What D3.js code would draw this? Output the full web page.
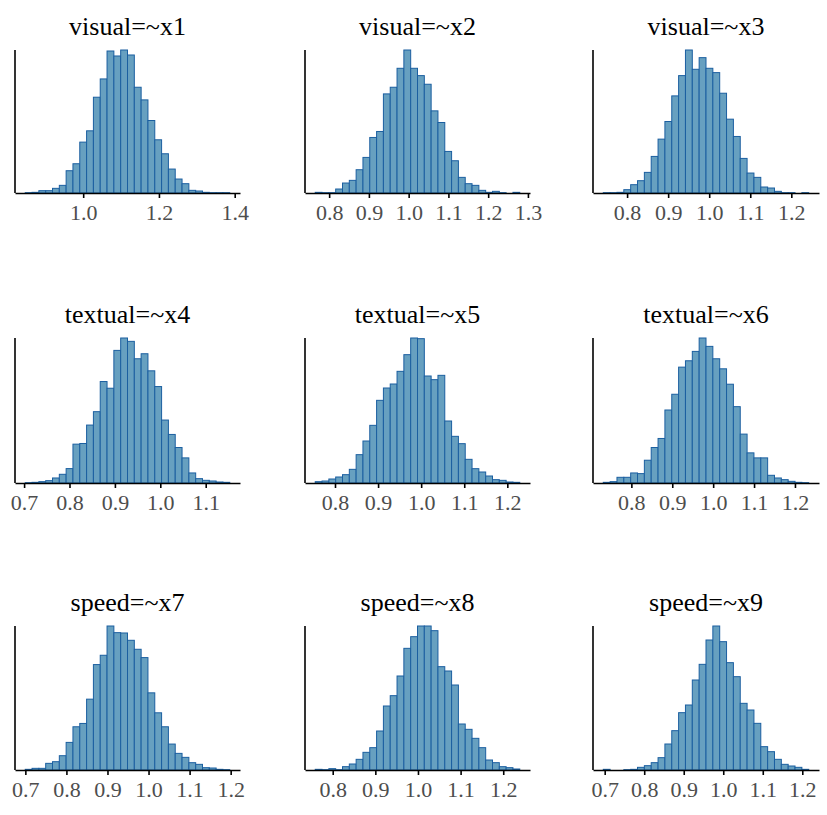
<!DOCTYPE html>
<meta charset="utf-8">
<script src="https://d3js.org/d3.v7.min.js"></script>
<style>
body { margin: 0; background: #fff; }
.title { font: 26px "Liberation Serif", "Times New Roman", serif; fill: #000; }
.x-axis text { font: 22px "Liberation Serif", "Times New Roman", serif; fill: #4d4d4d; }
.x-axis path, .x-axis line, .y-line { stroke: #000; stroke-width: 1.6px; }
.bar { fill: #67a0c0; stroke: #1b5fa0; stroke-width: 1px; }
</style>
<body>
<script>
var titles = ['visual=~x1', 'visual=~x2', 'visual=~x3',
              'textual=~x4', 'textual=~x5', 'textual=~x6',
              'speed=~x7', 'speed=~x8', 'speed=~x9'];

// left edge of the first bin and bin width (30 bins per panel)
var binStart = [0.847, 0.765, 0.742, 0.7025, 0.7541, 0.7313, 0.6997, 0.759, 0.6964];
var binWidth = [0.0180, 0.01715, 0.01668, 0.015017, 0.015827, 0.016746, 0.016604, 0.015993, 0.01733];

var counts1 = [1,2,7,7,14,23,67,88,153,187,288,343,427,412,430,415,318,280,218,160,118,72,42,28,8,6,2,1,1,1];
var counts2 = [2,1,1,12,30,38,70,107,167,185,298,318,375,430,375,353,327,247,212,125,97,47,28,23,8,2,5,1,0,2];
var counts3 = [1,1,2,10,25,37,62,110,162,215,292,353,430,372,407,375,362,300,222,170,104,60,47,18,15,5,1,1,0,1];
var counts4 = [1,2,4,7,15,26,43,116,118,173,213,303,283,396,433,423,371,386,335,288,188,145,106,75,30,13,8,6,3,2];
var counts5 = [4,6,12,18,25,41,85,126,173,248,285,297,335,385,435,433,321,310,323,186,140,118,71,43,33,21,10,8,3,2];
var counts6 = [2,4,17,17,30,28,68,106,133,218,265,346,365,393,433,408,371,341,295,228,146,90,75,75,23,15,10,5,2,1];
var counts7 = [2,5,5,20,25,43,83,130,140,213,317,345,433,413,412,390,363,338,232,172,130,78,50,38,22,17,7,6,2,1];
var counts8 = [2,1,4,1,10,18,32,53,67,117,192,223,282,365,400,432,432,418,310,297,255,138,122,95,67,30,22,10,7,3];
var counts9 = [2,0,0,1,2,8,13,22,37,78,118,172,195,270,317,390,432,385,322,280,200,180,140,70,55,32,17,12,8,2];
var allCounts = [counts1, counts2, counts3, counts4, counts5, counts6, counts7, counts8, counts9];

var tickValues = [
    [1.0, 1.2, 1.4],
    [0.8, 0.9, 1.0, 1.1, 1.2, 1.3],
    [0.8, 0.9, 1.0, 1.1, 1.2],
    [0.7, 0.8, 0.9, 1.0, 1.1],
    [0.8, 0.9, 1.0, 1.1, 1.2],
    [0.8, 0.9, 1.0, 1.1, 1.2],
    [0.7, 0.8, 0.9, 1.0, 1.1, 1.2],
    [0.8, 0.9, 1.0, 1.1, 1.2],
    [0.7, 0.8, 0.9, 1.0, 1.1, 1.2]
];

// panel layout
var colLeft = [15, 305, 593], colRight = [240, 530, 819];
var rowTop = [50, 338, 626], rowBottom = [193, 483, 770];

var svg = d3.select('body')
    .append('svg')
    .attr('width', 827)
    .attr('height', 815);

for (var p = 0; p < 9; p++) {
    var col = p % 3, row = Math.floor(p / 3);
    var counts = allCounts[p];
    var bins = counts.map(function(c, i) {
        return {x0: binStart[p] + i * binWidth[p], x1: binStart[p] + (i + 1) * binWidth[p], n: c};
    });
    var lo = bins[0].x0, hi = bins[bins.length - 1].x1;
    var pad = (hi - lo) * 0.05;  // ggplot-like expansion

    var x = d3.scaleLinear()
        .domain([lo - pad, hi + pad])
        .range([colLeft[col], colRight[col]]);
    var y = d3.scaleLinear()
        .domain([0, d3.max(counts)])
        .range([rowBottom[row], rowTop[row]]);

    var g = svg.append('g');

    g.selectAll('rect')
        .data(bins)
        .enter()
        .append('rect')
        .attr('class', 'bar')
        .attr('x', function(d) { return x(d.x0); })
        .attr('width', function(d) { return x(d.x1) - x(d.x0); })
        .attr('y', function(d) { return y(d.n); })
        .attr('height', function(d) { return y(0) - y(d.n); });

    g.append('g')
        .attr('class', 'x-axis')
        .attr('transform', 'translate(0,' + rowBottom[row] + ')')
        .call(d3.axisBottom(x)
            .tickValues(tickValues[p])
            .tickFormat(d3.format('.1f'))
            .tickSize(5)
            .tickSizeOuter(0)
            .tickPadding(6));

    g.append('line')
        .attr('class', 'y-line')
        .attr('x1', colLeft[col]).attr('x2', colLeft[col])
        .attr('y1', rowBottom[row]).attr('y2', rowTop[row]);

    g.append('text')
        .attr('class', 'title')
        .attr('text-anchor', 'middle')
        .attr('x', (colLeft[col] + colRight[col]) / 2)
        .attr('y', rowTop[row] - 15)
        .text(titles[p]);
}
</script>
</body>
